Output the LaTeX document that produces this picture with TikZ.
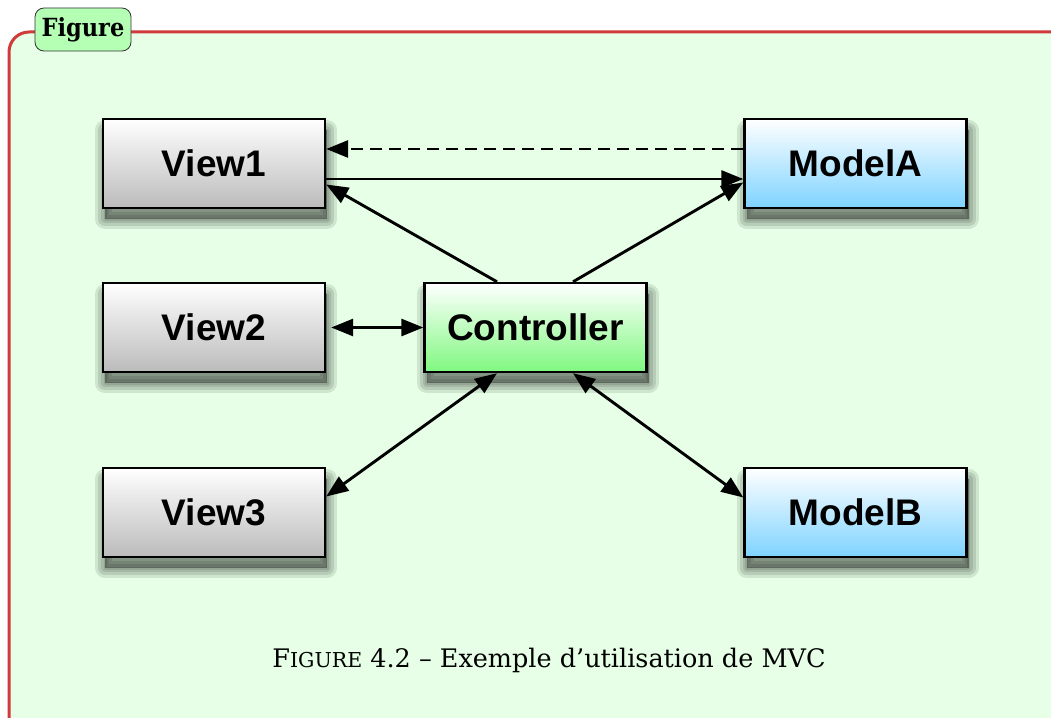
\documentclass[tikz,border=0pt]{standalone}
\usepackage{fontspec}
\newfontfamily\boxfont{Liberation Sans}
\newfontfamily\capfont{DejaVu Serif}
\newfontfamily\titlefont{DejaVu Serif Condensed}
\usetikzlibrary{shadows,arrows.meta,calc}
\definecolor{framebg}{HTML}{E6FFE6}
\definecolor{framered}{HTML}{D03A3A}
\definecolor{titlebg}{HTML}{B5FFB5}
\definecolor{grayB}{HTML}{BBBBBB}
\definecolor{blueB}{HTML}{7ED3FF}
\definecolor{greenB}{HTML}{7FF87F}
\tikzset{
  shlayer/.style={general shadow={fill=black, draw=black, line join=round, line width=#1,
     opacity=0.1, shadow xshift=2pt, shadow yshift=-11pt}},
  mvcbox/.style={draw=black, line width=2.4pt, minimum width=222pt, minimum height=89pt,
    inner sep=0pt, font=\boxfont\bfseries\fontsize{37}{40}\selectfont,
    shlayer=20pt, shlayer=14pt, shlayer=8pt, shlayer=3pt},
  graybox/.style={mvcbox, top color=white, bottom color=grayB},
  bluebox/.style={mvcbox, top color=white, bottom color=blueB},
  greenbox/.style={mvcbox, top color=white, bottom color=greenB},
  conn/.style={line width=2.9pt, -{Triangle[length=22pt,width=17pt]}},
  biconn/.style={line width=2.9pt, {Triangle[length=22pt,width=17pt]}-{Triangle[length=22pt,width=17pt]}},
}
\begin{document}
\begin{tikzpicture}[x=1pt,y=-1pt]
\useasboundingbox (0,0) rectangle (1051,717);
\clip (0,0) rectangle (1051,717);
\fill[white] (0,0) rectangle (1051,717);
\fill[framebg, rounded corners=20pt] (9,32) rectangle (1200,900);
\draw[framered, line width=3pt, rounded corners=20pt] (9,900) -- (9,32) -- (1200,32);
\node[draw=black!80, line width=0.8pt, fill=titlebg, rounded corners=9pt,
  minimum width=96pt, minimum height=43pt, inner sep=0pt,
  font=\titlefont\bfseries\fontsize{25}{28}\selectfont] (title) at (83,29.5) {Figure};

\node[graybox] (view1) at (214,163.5) {View1};
\node[graybox] (view2) at (214,327.5) {View2};
\node[graybox] (view3) at (214,512.5) {View3};
\node[bluebox] (modelA) at (855.5,163.5) {ModelA};
\node[bluebox] (modelB) at (855.5,512.5) {ModelB};
\node[greenbox] (ctrl) at (535.5,327.5) {Controller};

\draw[conn, dash pattern=on 12pt off 7pt] ([yshift=14.5pt]modelA.west) -- ([yshift=14.5pt]view1.east);
\draw[conn] ([yshift=-15.5pt]view1.east) -- ([yshift=-15.5pt]modelA.west);
\draw[conn] ([xshift=-38.5pt]ctrl.north) -- ([yshift=-21pt]view1.east);
\draw[conn] ([xshift=37.5pt]ctrl.north) -- ([yshift=-19pt]modelA.west);
\draw[biconn, shorten <=5pt] (view2.east) -- (ctrl.west);
\draw[biconn] ([xshift=-38.5pt]ctrl.south) -- ([yshift=16pt]view3.east);
\draw[biconn] ([xshift=37.5pt]ctrl.south) -- ([yshift=15pt]modelB.west);

\node[font=\capfont\fontsize{25.5}{28}\selectfont] (caption) at (549,660)
  {F{\fontsize{20.5}{24}\selectfont IGURE} 4.2 – Exemple d’utilisation de MVC};
\end{tikzpicture}
\end{document}
